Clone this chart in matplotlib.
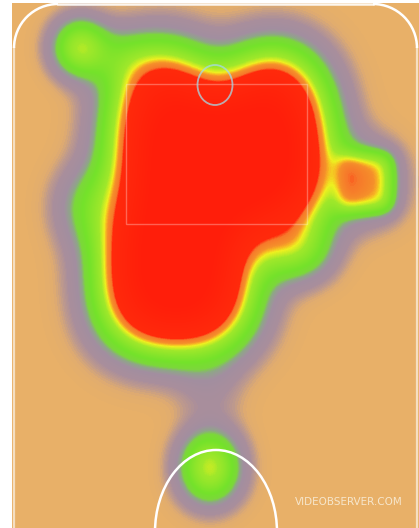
import math
import numpy as np
import matplotlib
matplotlib.use("Agg")
import matplotlib.pyplot as plt
from matplotlib.colors import LinearSegmentedColormap
from matplotlib.patches import Rectangle, Ellipse, Arc

# hot zones in picture pixels: x0, x1, y0, y1, weight, spread
zone_x0 = [132, 120, 140, 247, 339, 336, 70, 200, 270, 75, 192, 105]
zone_x1 = [310, 232, 188, 300, 391, 394, 90, 220, 320, 95, 228, 140]
zone_y0 = [104, 217, 62, 65, 155, 150, 33, 445, 235, 180, 360, 45]
zone_y1 = [217, 332, 104, 104, 210, 214, 62, 490, 265, 230, 420, 70]
zone_w = [1.3, 1.3, 1.3, 1.3, 0.27, 0.2, 1.3, 1.25, 0.5, 0.42, 0.08, 0.3]
zone_s = [30, 30, 30, 30, 8, 20, 18, 20, 20, 22, 20, 20]

W, H = 419, 528
court_left, court_top = 12, 3

xs = np.arange(W) + 0.5
ys = np.arange(H) + 0.5


def blur1d(coords, a, b, s):
    k = s * math.sqrt(2)
    return np.array([0.5 * (math.erf((b - c) / k) - math.erf((a - c) / k)) for c in coords])


heat = np.zeros((H, W))
for x0, x1, y0, y1, w, s in zip(zone_x0, zone_x1, zone_y0, zone_y1, zone_w, zone_s):
    heat += w * np.outer(blur1d(ys, y0, y1, s), blur1d(xs, x0, x1, s))

cmap = LinearSegmentedColormap.from_list("court_heat", [
    (0.000, "#e8b068"),
    (0.014, "#e2ad6e"),
    (0.030, "#bf9a8c"),
    (0.050, "#a98e9c"),
    (0.095, "#a28fa0"),
    (0.125, "#8fa688"),
    (0.150, "#7cd83a"),
    (0.200, "#74e22a"),
    (0.330, "#a0e82a"),
    (0.385, "#eef020"),
    (0.410, "#f8b424"),
    (0.430, "#f5902a"),
    (0.480, "#f7782a"),
    (0.505, "#ff2a0c"),
    (1.000, "#ff1e0a"),
])

fig = plt.figure(figsize=(W / 100, H / 100), dpi=100)
ax = fig.add_axes([0, 0, 1, 1])
ax.set_xlim(0, W)
ax.set_ylim(H, 0)
ax.axis("off")
fig.patch.set_facecolor("white")

hm = heat[court_top:, court_left:]
ax.imshow(hm, cmap=cmap, vmin=0, vmax=1, extent=[court_left, W, H, court_top],
          interpolation="bilinear", zorder=1)

# court lines
lc = "white"
ax.add_patch(Rectangle((126, 84), 181, 140, fill=False, ec=(1, 1, 1, 0.3), lw=1, zorder=3))
ax.add_patch(Ellipse((215, 85), 35, 40, fill=False, ec=(0.65, 0.85, 0.9, 0.75), lw=1.3, zorder=3))
ax.add_patch(Arc((216, 532), 122, 164, theta1=180, theta2=360, ec=lc, lw=1.8, zorder=3))
r = 44
ax.plot([14, 14], [H, 4 + r], color=lc, lw=1.6, alpha=0.6, zorder=3)
ax.plot([417, 417], [H, 4 + r], color=lc, lw=1.6, alpha=0.6, zorder=3)
ax.plot([14 + r, 417 - r], [4, 4], color=lc, lw=1.8, alpha=0.9, zorder=3)
ax.add_patch(Arc((14 + r, 4 + r), 2 * r, 2 * r, theta1=180, theta2=270, ec=lc, lw=1.8, zorder=3))
ax.add_patch(Arc((417 - r, 4 + r), 2 * r, 2 * r, theta1=270, theta2=360, ec=lc, lw=1.8, zorder=3))

ax.text(403, 502, "VIDEOBSERVER.COM", color="#f6e6cc", fontsize=7.5, ha="right", va="center",
        family=["Liberation Sans Narrow", "DejaVu Sans"], zorder=4)

fig.savefig("out.png", dpi=100)
